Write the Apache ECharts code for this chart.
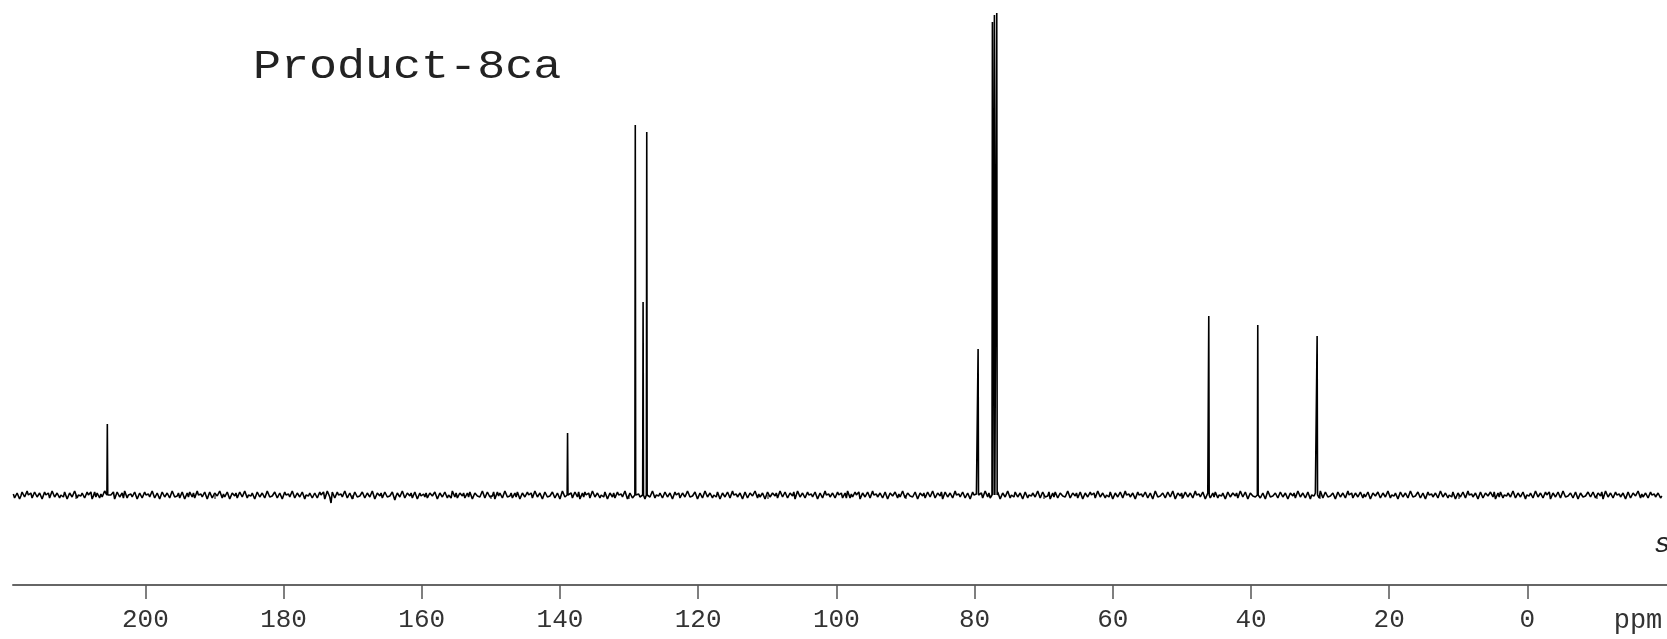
<!DOCTYPE html>
<html>
<head>
<meta charset="utf-8">
<script src="https://cdn.jsdelivr.net/npm/echarts@6/dist/echarts.min.js"></script>
<style>
html,body{margin:0;padding:0;background:#fff;}
#chart{width:1667px;height:639px;}
</style>
</head>
<body>
<div id="chart"></div>
<script>
// ---- data ----
const titleText = 'Product-8ca';
const axisUnit = 'ppm';
const cornerText = 's';
const peakPpm    = [205.5, 138.9, 129.1, 127.97, 127.44, 79.49, 77.42, 77.13, 76.79, 46.11, 39.02, 30.43];
const peakHeight = [71,    62,    370,   193,    363,    146,   473,   480,   482,   179,   170,   159];
const majorTicks = [200, 180, 160, 140, 120, 100, 80, 60, 40, 20, 0];
const minorTicks = [210, 190, 170, 150, 130, 110, 90, 70, 50, 30, 10, -10];
const noiseStartPpm = 219.1;
const noiseEndPpm = -19.45;
// baseline noise, first set of samples
const noiseA = [
1,-2,3,-1,2,-3,0,2,-2,1,-1,3,-2,0,2,-3,1,-1,2,0,-2,3,-1,1,-3,2,0,-1,2,-2,
0,3,-1,-2,2,1,-3,2,-1,0,3,-2,1,-1,-3,2,0,1,-2,3,-1,2,-2,0,1,-3,2,-1,3,-2,
1,-1,2,-4,1,0,2,-2,3,-1,-2,1,2,-3,0,1,-1,3,-2,2,-1,0,-3,2,1,-2,3,-1,0,2,
-2,1,-3,2,0,-1,3,-2,1,-1,2,-3,1,0,-2,2,-1,3,-2,0,1,-3,2,-1,1,-2,3,0,-1,2,
-1,2,-2,0,3,-3,1,-8,2,-2,0,1,-3,2,-1,3,-2,1,0,-2,2,-1,1,-3,3,-1,0,2,-2,1,
0,-2,4,-1,1,-3,2,-1,0,2,-2,3,-1,-1,1,2,-1,0,-2,3,-1,1,-2,2,0,-3,1,2,-1,0,
2,-1,-2,3,-1,0,1,-3,2,-2,1,0,3,-2,-1,2,-3,1,0,2,-1,-2,3,-1,1,-2,0,2,-3,1,
-1,3,-2,1,0,-2,2,-1,3,-3,1,0,-1,2,-2,1,3,-1,-2,0,2,-3,1,-1,2,0,-2,3,-1,1,
2,-2,0,1,-3,3,-1,2,-2,0,1,-1,3,-2,1,-3,2,0,-1,2,-2,1,-1,3,-2,0,2,-1,1,-3,
1,0,-2,3,-1,2,-3,1,-1,2,0,-2,3,-1,1,-2,2,-3,0,1,-1,3,-2,2,-1,0,-3,2,1,-1,
3,-2,1,-1,0,2,-3,1,-2,2,-1,0,3,-3,1,-1,2,-2,0,1,-2,3,-1,2,-3,0,1,-1,2,-2,
0,2,-1,-3,2,1,-2,0,3,-1,1,-2,2,-3,0,1,-1,2,-2,3,-1,0,-2,2,1,-3,2,-1,0,1,
-2,3,-1,0,2,-2,1,-3,2,-1,0,3,-2,1,-1,2,-3,0,1,-2,2,-1,3,-2,0,1,-1,2,-3,1,
2,-1,0,-2,3,-1,1,-3,2,0,-2,1,-1,3,-2,2,0,-1,1,-3,2,-2,1,0,3,-1,-2,2,-1,0,
1,-3,2,-1,0,2,-2,3,-1,1,-2,0,2,-3,1,-1,2,0,-2,3,-1,1,-2,2,-3,0,1,-1,3,-2,
0,1,-2,2,-1,3,-3,1,0,-1,2,-2,1,-3,3,-1,0,2,-2,1,-1,2,-3,0,1,-2,3,-1,2,-1,
-2,2,0,-1,3,-2,1,-1,0,2,-3,1,-2,3,-1,0,1,-2,2,-1,3,-3,1,0,-1,2,-2,1,-1,3,
-1,0,2,-3,1,-1,2,-2,3,0,-1,1,-3,2,-2,1,0,-1,3,-2,1,-1,2,-3,0,2,-1,1,-2,2,
1,-2,3,-1,0,-2,2,-1,1,-3,2,0,-1,3,-2,1,-1,2,-3,1,0,-2,2,-1,3,-2,0,1,-1,2,
-3,1,-1,2,0,-2,3,-1,1,-2,2,-3,0,1,-1,3,-2,2,-1,0,-2,1,3,-1,-2,2,0,-1,1,-3,
2,-1,1,-2,3,0,-1,2,-3,1,-1,2,-2,0,3,-1,1,-2,2,-3,1,0,-1,2,-2,3,-1,1,0,-2,
1,-2,2,-1,0,3,-3,1,-1,2,-2,0,1,-1,3,-2,2,-1,0,-3,2,1,-1,2,-2,0,1,-1,2,-1
];
// baseline noise, second set of samples (between the first ones)
const noiseB = [
-3,2,-4,3,-2,4,-1,-3,3,-2,2,-4,3,-1,-3,4,-2,2,-3,-1,3,-4,2,-2,4,-3,1,2,-3,3,
-2,-4,3,2,-3,-2,4,-3,2,-1,-4,3,-2,2,4,-3,-1,-2,3,-4,2,-3,3,-1,-2,4,-3,2,-4,3,
-2,2,-3,4,-2,-1,-3,3,-4,2,3,-2,-3,4,-1,-2,3,-4,3,-3,2,-1,4,-3,-2,3,-4,2,-1,-3,
3,-2,4,-3,-1,2,-4,3,-2,2,-3,4,-2,-1,3,-3,2,-4,3,-1,-2,4,-3,2,-2,3,-4,-1,2,-3,
2,-3,3,-1,-4,4,-2,3,-3,3,-1,-2,4,-3,2,-4,3,-2,-1,3,-3,2,-2,4,-4,2,-1,-3,3,-2,
-1,3,-5,2,-2,4,-3,2,-1,-3,3,-4,2,1,-2,-3,2,-1,3,-4,2,-2,3,-3,-1,4,-2,-3,2,-1,
-3,2,3,-4,2,-1,-2,4,-3,3,-2,-1,-4,3,2,-3,4,-2,-1,-3,2,3,-4,2,-2,3,-1,-3,4,-2,
2,-4,3,-2,-1,3,-3,2,-4,4,-2,-1,2,-3,3,-2,-4,2,3,-1,-3,4,-2,2,-3,-1,3,-4,2,-2,
-3,3,-1,-2,4,-4,2,-3,3,-1,-2,2,-4,3,-2,4,-3,-1,2,-3,3,-2,2,-4,3,-1,-3,2,-2,4,
-2,-1,3,-4,2,-3,4,-2,2,-3,-1,3,-4,2,-2,3,-3,4,-1,-2,2,-4,3,-3,2,-1,4,-3,-2,2,
-4,3,-2,2,-1,-3,4,-2,3,-3,2,-1,-4,4,-2,2,-3,3,-1,-2,3,-4,2,-3,4,-1,-2,2,-3,3,
-1,-3,2,4,-3,-2,3,-1,-4,2,-2,3,-3,4,-1,-2,2,-3,3,-4,2,-1,3,-3,-2,4,-3,2,-1,-2,
3,-4,2,-1,-3,3,-2,4,-3,2,-1,-4,3,-2,2,-3,4,-1,-2,3,-3,2,-4,3,-1,-2,2,-3,4,-2,
-3,2,-1,3,-4,2,-2,4,-3,-1,3,-2,2,-4,3,-3,-1,2,-2,4,-3,3,-2,-1,-4,2,3,-3,2,-1,
-2,4,-3,2,-1,-3,3,-4,2,-2,3,-1,-3,4,-2,2,-3,-1,3,-4,2,-2,3,-3,4,-1,-2,2,-4,3,
-1,-2,3,-3,2,-4,4,-2,-1,2,-3,3,-2,4,-4,2,-1,-3,3,-2,2,-3,4,-1,-2,3,-4,2,-3,2,
3,-3,-1,2,-4,3,-2,2,-1,-3,4,-2,3,-4,2,-1,-2,3,-3,2,-4,4,-2,-1,2,-3,3,-2,2,-4,
2,-1,-3,4,-2,2,-3,3,-4,-1,2,-2,4,-3,3,-2,-1,2,-4,3,-2,2,-3,4,-1,-3,2,-2,3,-3,
-2,3,-4,2,-1,3,-3,2,-2,4,-3,-1,2,-4,3,-2,2,-3,4,-2,-1,3,-3,2,-4,3,-1,-2,2,-3,
4,-2,2,-3,-1,3,-4,2,-2,3,-3,4,-1,-2,2,-4,3,-3,2,-1,3,-2,-4,2,3,-3,-1,2,-2,4,
-3,2,-2,3,-4,-1,2,-3,4,-2,2,-3,3,-1,-4,2,-2,3,-3,4,-2,-1,2,-3,3,-4,2,-2,-1,3,
-2,3,-3,2,-1,-4,4,-2,2,-3,3,-1,-2,2,-4,3,-3,2,-1,4,-3,-2,2,-3,3,-1,-2,2,-3,2
];

// ---- build the spectrum trace ----
const pts = [];
const step = (noiseStartPpm - noiseEndPpm) / (noiseA.length - 1);
const nearPeak = p => peakPpm.some(q => Math.abs(q - p) < 0.12);
noiseA.forEach((v, i) => {
  const p = noiseStartPpm - i * step;
  if (!nearPeak(p)) pts.push([p, v]);
});
noiseB.forEach((v, i) => {
  const p = noiseStartPpm - (i + 0.5) * step;
  if (p > noiseEndPpm && !nearPeak(p)) pts.push([p, v]);
});
peakPpm.forEach((p, i) => {
  pts.push([p + 0.06, 0], [p, peakHeight[i]], [p - 0.06, 0]);
});
pts.sort((a, b) => b[0] - a[0]);

const X_MIN = -20.2, X_MAX = 219.15;
const monoFont = '"Liberation Mono", "DejaVu Sans Mono", monospace';

const chart = echarts.init(document.getElementById('chart'), null, {renderer: 'canvas'});
chart.setOption({
  animation: false,
  backgroundColor: '#ffffff',
  grid: {left: 13, right: 0, top: 0, bottom: 54, containLabel: false},
  xAxis: [
    {
      type: 'value', min: X_MIN, max: X_MAX, inverse: true, position: 'bottom',
      axisLine: {show: true, onZero: false, lineStyle: {color: '#666', width: 2}},
      axisTick: {show: true, customValues: majorTicks, length: 14, lineStyle: {color: '#555', width: 1.5}},
      axisLabel: {show: true, customValues: majorTicks, fontFamily: monoFont, fontSize: 26, color: '#333', margin: 22},
      splitLine: {show: false}
    },
    {
      type: 'value', min: X_MIN, max: X_MAX, inverse: true, position: 'bottom',
      axisLine: {show: false},
      axisTick: {show: true, customValues: minorTicks, length: 4, lineStyle: {color: '#555', width: 1.5}},
      axisLabel: {show: false},
      splitLine: {show: false}
    }
  ],
  yAxis: {type: 'value', min: -90, max: 495, show: false, splitLine: {show: false}},
  series: [{
    type: 'line',
    xAxisIndex: 0,
    data: pts,
    showSymbol: false,
    symbol: 'none',
    sampling: null,
    clip: true,
    lineStyle: {color: '#000', width: 1.6},
    emphasis: {disabled: true}
  }],
  graphic: [
    {type: 'text', x: 253, y: 67.4, scaleY: 0.88,
      style: {text: titleText, font: '46.7px ' + monoFont, fill: '#222', align: 'left', verticalAlign: 'middle'}},
    {type: 'text', x: 1638, y: 621,
      style: {text: axisUnit, font: '27px ' + monoFont, fill: '#333', align: 'center', verticalAlign: 'middle'}},
    {type: 'text', x: 1654, y: 545,
      style: {text: cornerText, font: 'italic 28px ' + monoFont, fill: '#222', align: 'left', verticalAlign: 'middle'}}
  ]
});
</script>
</body>
</html>
